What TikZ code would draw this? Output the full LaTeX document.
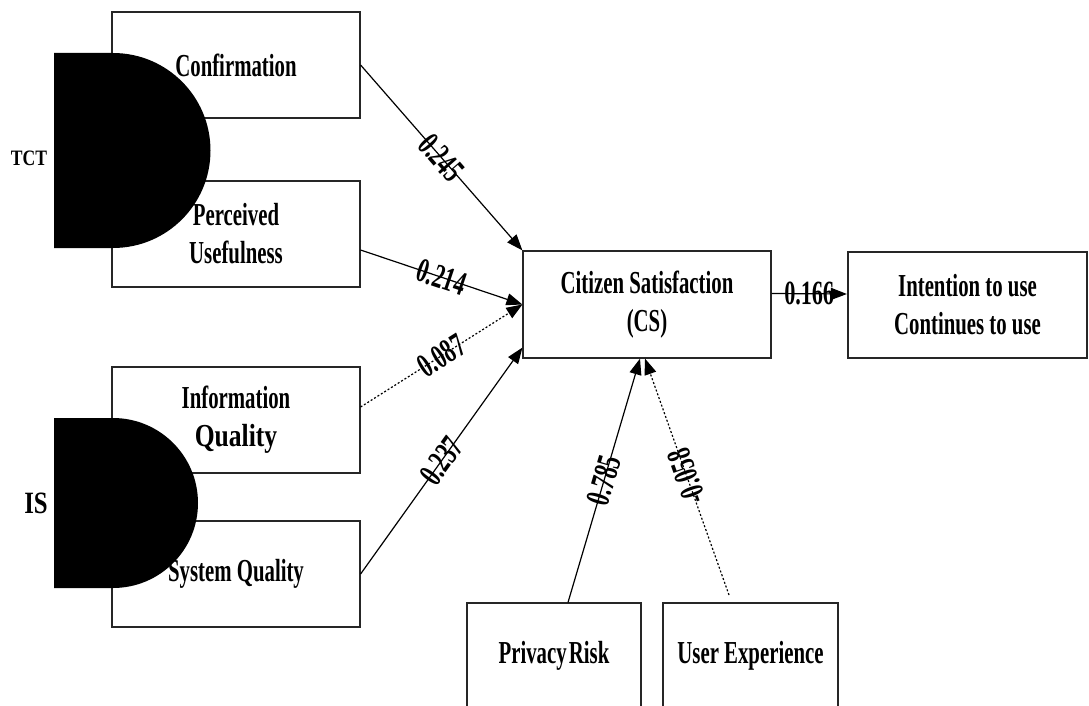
\documentclass[tikz,border=0pt]{standalone}
\usepackage{fontspec}
\newfontfamily\narrow{Liberation Serif}[FakeStretch=0.65]
\newfontfamily\wider{Liberation Serif}[FakeStretch=0.8]
\usetikzlibrary{arrows.meta}
\tikzset{
  var/.style={draw=black!85,line width=1.2pt,minimum width=248pt,minimum height=106pt,
    inner sep=0pt,align=center,font=\narrow\bfseries\fontsize{32}{38}\selectfont},
  thick var/.style={var,line width=2.2pt},
  link/.style={line width=1.2pt,-{Triangle[length=16pt,width=12pt]}},
  weak/.style={link,dash pattern=on 2pt off 2pt},
  coef/.style={sloped,inner sep=0pt,font=\narrow\bfseries\fontsize{34}{34}\selectfont}
}
\def\Dcap#1#2{\fill (54,#1-#2) -- (113,#1-#2) arc[start angle=-90,end angle=90,radius=#2] -- (54,#1+#2) -- cycle;}

\begin{document}
\begin{tikzpicture}[x=1pt,y=-1pt]
  \useasboundingbox (0,0) rectangle (1089,706);
  \node[var] (conf) at (236,65) {Confirmation};
  \node[var] (pu) at (236,234) {Perceived\\Usefulness};
  \node[var] (iq) at (236,420) {Information\\{\wider\bfseries Quality}};
  \node[var] (sq) at (236,574) {System Quality};
  \node[var,minimum height=107pt] (cs) at (647,304.5) {Citizen Satisfaction\\(CS)};
  \node[thick var,minimum width=239pt] (int) at (967.5,305) {Intention to use\\Continues to use};
  \node[var,minimum width=174pt] (pr) at (554,656) {Privacy\hspace{-3pt} Risk};
  \node[thick var,minimum width=175pt] (ux) at (750.5,656) {User Experience};
  % theory groups
  \Dcap{150.5}{97.5} \Dcap{503}{85}
  \node[font=\wider\bfseries\fontsize{22}{22}\selectfont] (tct) at (29,158) {TCT};
  \node[font=\wider\bfseries\fontsize{31}{31}\selectfont] (is) at (36,503) {IS};
  % paths
  \draw[link] (conf.east) -- node[coef] {0.245} (cs.north west);
  \draw[link] ([yshift=-16pt]pu.east) -- node[coef] {0.214} (cs.west);
  \draw[weak] ([yshift=13pt]iq.east) -- node[coef] {0.087} (cs.west);
  \draw[link] (sq.east) -- node[coef] {0.237} ([yshift=11pt]cs.south west);
  \draw[link] ([xshift=14pt]pr.north) -- node[coef] {0.785} ([xshift=-7pt]cs.south);
  \coordinate (uxend) at (729,595);
  \draw[weak] (uxend) -- node[coef,allow upside down] {-0.058} ([xshift=-2pt]cs.south);
  \draw[link] ([yshift=11pt]cs.east) -- node[coef] {0.166} ([yshift=11pt]int.west);
\end{tikzpicture}
\end{document}
